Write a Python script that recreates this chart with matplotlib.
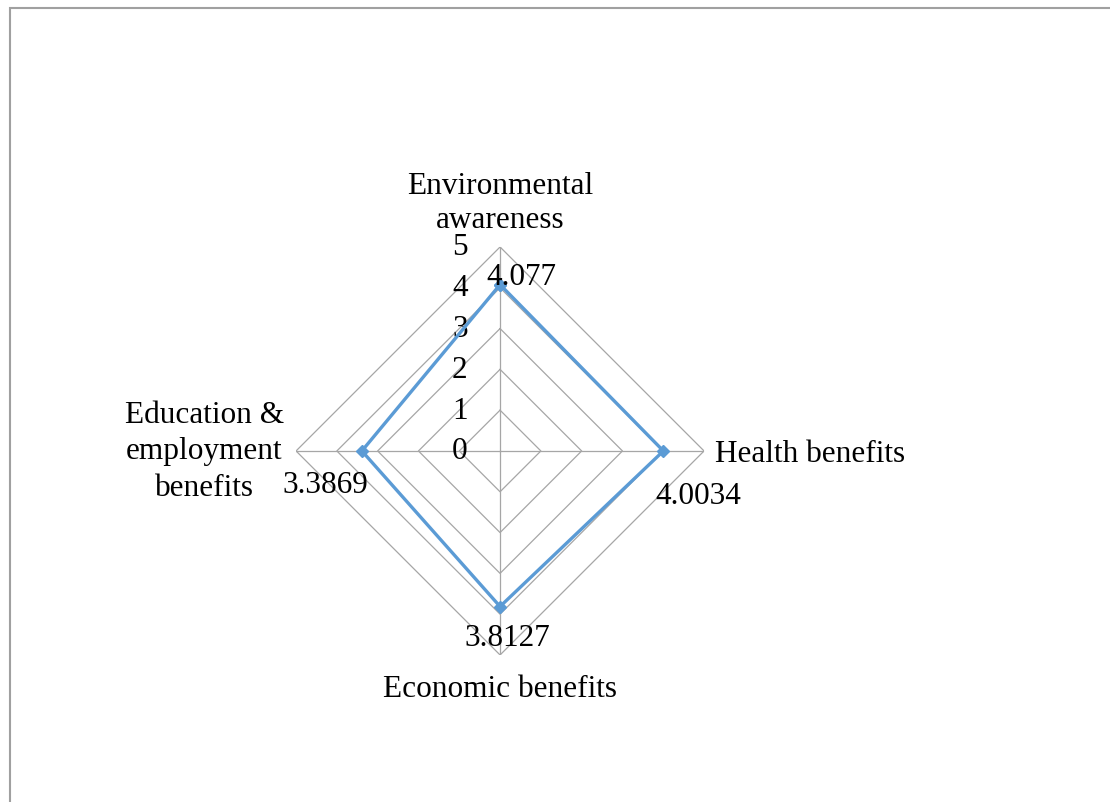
import numpy as np
import matplotlib
matplotlib.use("Agg")
import matplotlib.pyplot as plt
from matplotlib.patches import Rectangle

categories = ["Environmental\nawareness", "Health benefits",
              "Economic benefits", "Education &\nemployment\nbenefits"]
values = [4.077, 4.0034, 3.8127, 3.3869]
value_labels = ["4.077", "4.0034", "3.8127", "3.3869"]
rticks = [0, 1, 2, 3, 4, 5]

plt.rcParams["font.family"] = ["Liberation Serif", "DejaVu Serif"]
FS = 22.5
LINE = "#5B9BD5"
GRID = "#A6A6A6"

fig = plt.figure(figsize=(11.10, 8.03), dpi=100)

# outer chart border (right/bottom edges fall outside the canvas)
fig.patches.append(Rectangle((10 / 1110, -0.1), 1.2, 1 - 9 / 803 + 0.1,
                             transform=fig.transFigure, fill=False,
                             edgecolor="#A0A0A0", linewidth=1.5))

ax = fig.add_axes([0.2667, 0.1831, 0.3676, 0.5081], projection="polar")
ax.set_theta_offset(np.pi / 2)
ax.set_theta_direction(-1)
ax.set_ylim(0, 5)
ax.grid(False)
ax.spines["polar"].set_visible(False)
ax.set_xticks([])
ax.set_yticks([])
ax.patch.set_alpha(0)

angles = np.linspace(0, 2 * np.pi, len(categories), endpoint=False)
closed = np.append(angles, angles[0])

# diamond gridlines and spokes
for r in rticks[1:]:
    ax.plot(closed, [r] * len(closed), color=GRID, linewidth=0.9, zorder=1)
for a in angles:
    ax.plot([a, a], [0, 5], color=GRID, linewidth=0.9, zorder=1)

# radial tick labels along the top spoke
for r in rticks:
    ax.annotate(str(r), xy=(0, r), xytext=(-29, 0), textcoords="offset points",
                ha="center", va="center", fontsize=FS)

# data series
ax.plot(closed, np.append(values, values[0]), color=LINE, linewidth=2.4,
        marker="D", markersize=6.5, zorder=3)

value_offsets = [(15, 6), (25, -32), (5, -22), (-26, -24)]
for a, v, lab, off in zip(angles, values, value_labels, value_offsets):
    ax.annotate(lab, xy=(a, v), xytext=off, textcoords="offset points",
                ha="center", va="center", fontsize=FS, zorder=4)

# category labels
cat_pos = [((0, 5), (0, 32), "center", "center", 1.25),
           ((angles[1], 5), (8, -2), "left", "center", 1.2),
           ((angles[2], 5), (0, -14), "center", "top", 1.2),
           ((angles[3], 5), (-66, 0), "center", "center", 1.35)]
for lab, (xy, off, ha, va, ls) in zip(categories, cat_pos):
    ax.annotate(lab, xy=xy, xytext=off, textcoords="offset points",
                ha=ha, va=va, fontsize=FS, multialignment="center",
                linespacing=ls, annotation_clip=False)

fig.savefig("out.png", dpi=100)
